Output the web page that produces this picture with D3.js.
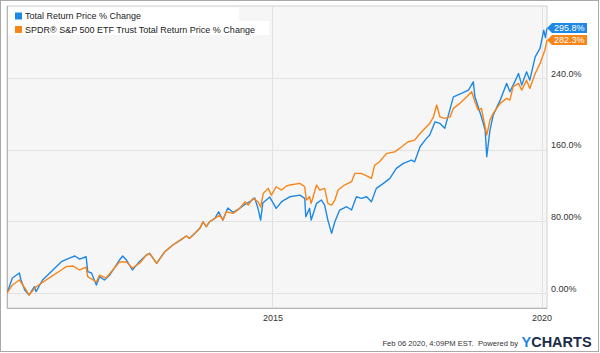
<!DOCTYPE html>
<html><head><meta charset="utf-8">
<script src="https://cdn.jsdelivr.net/npm/d3@7"></script>
<style>
html,body{margin:0;padding:0;background:#fff;}
svg{display:block;font-family:"Liberation Sans",Arial,sans-serif;}
</style></head>
<body><svg id="c" width="600" height="353"></svg>
<script>
// ---- data (decimal years, % change) ----
const seriesNames = ["Total Return Price % Change", "SPDR® S&P 500 ETF Trust Total Return Price % Change"];
const seriesColors = ["#1f88e5", "#f98518"];
const blueYears = [2010.07,2010.17,2010.30,2010.33,2010.40,2010.48,2010.58,2010.61,2010.73,2010.89,2011.08,2011.23,2011.33,2011.42,2011.54,2011.57,2011.64,2011.73,2011.79,2011.88,2011.98,2012.16,2012.22,2012.29,2012.40,2012.53,2012.66,2012.72,2012.85,2013.00,2013.15,2013.31,2013.40,2013.46,2013.56,2013.65,2013.71,2013.77,2013.83,2013.93,2014.00,2014.08,2014.17,2014.27,2014.39,2014.49,2014.58,2014.67,2014.73,2014.78,2014.82,2014.95,2015.07,2015.17,2015.32,2015.51,2015.60,2015.62,2015.69,2015.72,2015.82,2015.91,2015.97,2016.03,2016.10,2016.16,2016.25,2016.38,2016.47,2016.56,2016.65,2016.75,2016.84,2016.93,2017.06,2017.18,2017.30,2017.43,2017.58,2017.64,2017.74,2017.86,2017.92,2018.02,2018.11,2018.20,2018.36,2018.51,2018.64,2018.73,2018.76,2018.82,2018.88,2018.95,2018.98,2019.04,2019.10,2019.23,2019.35,2019.41,2019.50,2019.57,2019.63,2019.72,2019.78,2019.88,2019.97,2020.04,2020.07,2020.10];
const blueValues = [0,16.7,22.3,14.5,3.3,-2.2,7,1.5,14.5,23.8,34.9,39,41.3,37.9,40.5,23.8,22.3,8.9,18.2,14.5,20.1,36.8,41.3,36.8,25.7,35,42.4,44.3,33.1,46.1,53.6,59.9,63.6,61,66.6,72.2,79.5,74,79.5,83.3,90.7,81.4,94.8,90,94.5,99,101.9,106,94.8,81.4,100.4,107.1,94.5,101.9,107.4,109.3,105.7,85.1,94.5,81.4,100.1,103.8,98.2,81.4,66.6,79.5,92.6,96.3,92.6,107.4,105.7,107.4,101.9,116.8,122.4,128,139.1,144.7,148.4,146.5,163.2,172.6,176.3,191.1,189.3,183.8,219,222.8,226.5,235.7,219,207.9,196.7,181.9,152.1,181.9,198.6,215.3,234,224.6,235.7,245.1,232.1,246.9,237.6,263.6,273,293.4,285,295.8];
const orangeYears = [2010.07,2010.17,2010.30,2010.40,2010.48,2010.61,2010.89,2011.08,2011.17,2011.30,2011.42,2011.54,2011.57,2011.73,2011.79,2011.91,2012.16,2012.29,2012.40,2012.53,2012.66,2012.72,2012.85,2013.00,2013.15,2013.31,2013.40,2013.46,2013.56,2013.65,2013.71,2013.77,2013.83,2013.93,2014.02,2014.08,2014.14,2014.27,2014.39,2014.49,2014.55,2014.64,2014.73,2014.78,2014.83,2014.92,2014.98,2015.07,2015.17,2015.26,2015.32,2015.51,2015.60,2015.63,2015.69,2015.72,2015.82,2015.88,2015.97,2016.03,2016.10,2016.16,2016.22,2016.34,2016.47,2016.53,2016.65,2016.78,2016.84,2016.90,2016.99,2017.12,2017.27,2017.40,2017.52,2017.64,2017.74,2017.86,2017.92,2017.99,2018.05,2018.11,2018.20,2018.30,2018.36,2018.48,2018.61,2018.70,2018.76,2018.82,2018.88,2018.95,2018.98,2019.04,2019.10,2019.23,2019.35,2019.41,2019.47,2019.57,2019.63,2019.72,2019.78,2019.88,2019.97,2020.06,2020.10];
const orangeValues = [0,8.9,14.5,5.6,-2.2,7,18.2,25.7,29.4,30.1,25.7,29,18.2,12.3,20,16.7,34.6,34.6,27.9,33,42.4,44.3,33.1,46.1,53.6,59.9,63.6,61,66.6,72.2,79.5,74,79.5,83.3,87,81.4,90.7,88.9,94.5,101.9,98.2,105.7,101.9,96,111.2,116.8,109.3,118.6,114.9,119.4,120.5,122.4,118.6,103.8,107.4,100.1,120.5,114.9,116.8,100.1,98.2,103.8,114.9,120.5,124.2,133.5,133.5,129.8,128,142.8,146.5,155.9,157.6,163.2,168.8,170.7,178,185.5,189.3,196.7,209.8,196.7,194.9,196.7,206.1,211.7,219,224.6,213.4,204.2,206.1,185.5,176.3,193,200.5,211.7,217.2,215.3,230.2,234,226.5,237.6,228.4,245.1,256.3,271.1,282.3];
const lastLabels = ["295.8%", "282.3%"];
const yTickValues = [0, 80, 160, 240];
const yTickLabels = ["0.00%", "80.00%", "160.0%", "240.0%"];
const xTickYears = [2015, 2020];
const footerText = "Feb 06 2020, 4:09PM EST.  Powered by";

// ---- helpers ----
function toDate(y){ const yr=Math.floor(y); return new Date(Date.UTC(yr,0,1) + (y-yr)*365.25*864e5); }

const svg = d3.select("#c");
const L=7, R=547, T=6, B=308;

const x = d3.scaleUtc().domain([toDate(2010.07), toDate(2020.10)]).range([L, R]);
const y = d3.scaleLinear().domain([0, 240]).range([293, 78]);

// outer frame
svg.append("rect").attr("x",0.5).attr("y",0.5).attr("width",598).attr("height",351)
  .attr("fill","#fff").attr("stroke","#a8a8a8");

// plot background
svg.append("rect").attr("x",L).attr("y",T).attr("width",R-L).attr("height",B-T)
  .attr("fill","#f6f6f6").attr("stroke","#d0d0d0");
svg.append("path").attr("d",`M${L+0.5},${T} V${B+0.5} H${R}`).attr("fill","none").attr("stroke","#b4b4b4");

// gridlines
svg.append("g").selectAll("line").data(yTickValues).join("line")
  .attr("x1",L+1).attr("x2",R).attr("y1",d=>Math.round(y(d))+0.5).attr("y2",d=>Math.round(y(d))+0.5)
  .attr("stroke","#e2e2e2");
svg.append("g").selectAll("line").data(xTickYears).join("line")
  .attr("x1",d=>Math.round(x(toDate(d)))+0.5).attr("x2",d=>Math.round(x(toDate(d)))+0.5)
  .attr("y1",T+1).attr("y2",B).attr("stroke","#e2e2e2");

// axes
const yAxis = d3.axisRight(y).tickValues(yTickValues).tickFormat((d,i)=>yTickLabels[i]).tickSize(0).tickPadding(4);
const gy = svg.append("g").attr("transform",`translate(${R},0)`).call(yAxis);
gy.select(".domain").remove();
gy.selectAll("text").attr("dy","-1.8").attr("font-size",9).attr("fill","#333").attr("font-family","Liberation Sans, Arial, sans-serif");

const xAxis = d3.axisBottom(x).tickValues(xTickYears.map(toDate)).tickFormat(d3.utcFormat("%Y")).tickSize(0).tickPadding(7);
const gx = svg.append("g").attr("transform",`translate(0,${B})`).call(xAxis);
gx.select(".domain").remove();
gx.selectAll("text").attr("font-size",9).attr("fill","#333").attr("font-family","Liberation Sans, Arial, sans-serif");

// lines
const clip = svg.append("clipPath").attr("id","clip").append("rect").attr("x",L).attr("y",T).attr("width",R-L+2).attr("height",B-T);
const line = d3.line().x(d=>x(toDate(d[0]))).y(d=>y(d[1]));
const blueData = blueYears.map((t,i)=>[t, blueValues[i]]);
const orangeData = orangeYears.map((t,i)=>[t, orangeValues[i]]);
const lg = svg.append("g").attr("clip-path","url(#clip)");
lg.append("path").datum(blueData).attr("d",line).attr("fill","none").attr("stroke",seriesColors[0]).attr("stroke-width",1.4).attr("stroke-linejoin","round");
lg.append("path").datum(orangeData).attr("d",line).attr("fill","none").attr("stroke",seriesColors[1]).attr("stroke-width",1.4).attr("stroke-linejoin","round");

// legend
svg.append("rect").attr("x",L+1).attr("y",T+1).attr("width",231).attr("height",15).attr("fill","#fff");
svg.append("rect").attr("x",L+1).attr("y",T+15).attr("width",261).attr("height",14).attr("fill","#fff");
seriesNames.forEach((n,i)=>{
  const cy = 16 + i*13.5;
  svg.append("rect").attr("x",15).attr("y",cy-3.5).attr("width",7).attr("height",7).attr("fill",seriesColors[i]);
  svg.append("text").attr("x",25).attr("y",cy+3.2).attr("font-size",9).attr("fill","#222").text(n);
});

// end tags
const lastVals = [blueValues[blueValues.length-1], orangeValues[orangeValues.length-1]];
lastVals.forEach((v,i)=>{
  const ty = y(v);
  svg.append("path").attr("d",`M${R},${ty} L${R+5},${ty-5} H${R+40} V${ty+5} H${R+5} Z`).attr("fill",seriesColors[i]);
  svg.append("text").attr("x",R+7).attr("y",ty+3.2).attr("font-size",9).attr("fill","#fff").text(lastLabels[i]);
});

// footer
svg.append("text").attr("x",518).attr("y",346).attr("text-anchor","end").attr("font-size",7.6)
  .attr("fill","#333").style("white-space","pre").text(footerText);
const logo = svg.append("text").attr("x",521.5).attr("y",346.5).attr("font-size",14.5).attr("font-weight","bold").attr("fill","#1c2b47");
logo.append("tspan").attr("fill","#1f88e5").text("Y");
logo.append("tspan").text("CHARTS");
</script></body></html>
